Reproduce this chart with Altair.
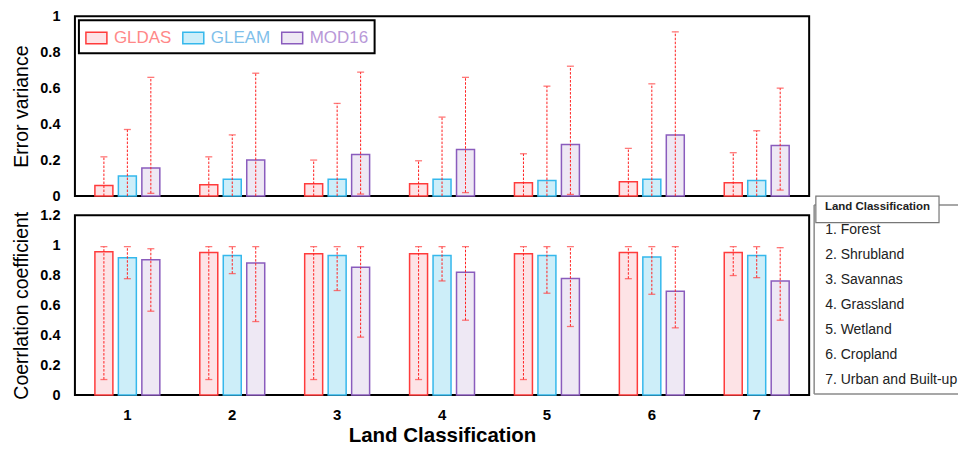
import altair as alt
import pandas as pd

FONT = "Liberation Sans"

classes = ["1", "2", "3", "4", "5", "6", "7"]
products = ["GLDAS", "GLEAM", "MOD16"]
items = ["1. Forest", "2. Shrubland", "3. Savannas", "4. Grassland",
         "5. Wetland", "6. Cropland", "7. Urban and Built-up"]

# Error variance (mean, upper, lower)
ev_gldas = [0.059, 0.063, 0.068, 0.068, 0.074, 0.080, 0.074]
ev_gldas_hi = [0.218, 0.218, 0.200, 0.196, 0.235, 0.265, 0.241]
ev_gldas_lo = [0, 0, 0, 0, 0, 0, 0]
ev_gleam = [0.111, 0.093, 0.093, 0.093, 0.087, 0.093, 0.087]
ev_gleam_hi = [0.370, 0.340, 0.515, 0.439, 0.611, 0.624, 0.363]
ev_gleam_lo = [0, 0, 0, 0, 0, 0, 0]
ev_mod16 = [0.156, 0.200, 0.231, 0.259, 0.287, 0.340, 0.281]
ev_mod16_hi = [0.660, 0.683, 0.689, 0.660, 0.722, 0.913, 0.600]
ev_mod16_lo = [0.015, 0, 0.011, 0.019, 0.009, 0, 0.033]

# Correlation coefficient (mean, upper, lower)
cc_gldas = [0.957, 0.951, 0.944, 0.944, 0.944, 0.951, 0.951]
cc_gldas_hi = [0.991, 0.991, 0.991, 0.991, 0.991, 0.991, 0.991]
cc_gldas_lo = [0.104, 0.104, 0.104, 0.104, 0.104, 0.777, 0.798]
cc_gleam = [0.917, 0.931, 0.931, 0.931, 0.931, 0.922, 0.931]
cc_gleam_hi = [0.991, 0.991, 0.991, 0.991, 0.991, 0.991, 0.991]
cc_gleam_lo = [0.777, 0.811, 0.698, 0.762, 0.680, 0.673, 0.784]
cc_mod16 = [0.904, 0.882, 0.853, 0.820, 0.778, 0.693, 0.762]
cc_mod16_hi = [0.977, 0.991, 0.991, 0.991, 0.991, 0.991, 0.984]
cc_mod16_lo = [0.560, 0.491, 0.387, 0.500, 0.458, 0.449, 0.500]

fills = ["#fde3e6", "#cdeef9", "#eee8f4"]
strokes = ["#ff3b3b", "#35b8ec", "#8a5cbd"]


def build(series):
    rows = []
    for prod, (m, hi, lo) in zip(products, series):
        for c, a, b, d in zip(classes, m, hi, lo):
            rows.append({"cls": c, "product": prod, "mean": a, "hi": b, "lo": d})
    return pd.DataFrame(rows)


ev_df = build([(ev_gldas, ev_gldas_hi, ev_gldas_lo),
               (ev_gleam, ev_gleam_hi, ev_gleam_lo),
               (ev_mod16, ev_mod16_hi, ev_mod16_lo)])
cc_df = build([(cc_gldas, cc_gldas_hi, cc_gldas_lo),
               (cc_gleam, cc_gleam_hi, cc_gleam_lo),
               (cc_mod16, cc_mod16_hi, cc_mod16_lo)])

W, H = 735, 180


def panel(df, ytitle, ydomain, yvals, show_x, show_legend):
    if show_x:
        x_axis = alt.Axis(title="Land Classification", labelAngle=0, labelFontSize=15,
                          labelFontWeight="bold", titleFontSize=20.5, titleFontWeight="bold",
                          labelPadding=12, titlePadding=3)
    else:
        x_axis = None
    x_enc = alt.X("cls:N", sort=classes, axis=x_axis,
                  scale=alt.Scale(paddingInner=0, paddingOuter=0))
    xo_enc = alt.XOffset("product:N", sort=products,
                         scale=alt.Scale(paddingInner=0.234, paddingOuter=0.851))
    y_axis = alt.Axis(title=ytitle, values=yvals, format="~g", labelFontSize=14.5,
                      labelFontWeight="bold", labelPadding=15, titleFontSize=19.5,
                      titleFontWeight="normal", titlePadding=8)
    y_scale = alt.Scale(domain=ydomain, nice=False)

    if show_legend:
        leg = alt.Legend(title=None, orient="top-left", direction="horizontal", offset=4,
                         padding=6, strokeColor="black",
                         symbolType="M-1,-0.55L1,-0.55L1,0.55L-1,0.55Z", symbolSize=441,
                         symbolStrokeWidth=1.5, labelFontSize=17, labelFont=FONT,
                         labelOffset=6, columnPadding=8,
                         labelColor={"expr": "datum.label == 'GLDAS' ? '#ff8888' : datum.label == 'GLEAM' ? '#7fc0ea' : '#b898d8'"})
    else:
        leg = None

    base = alt.Chart(df)
    bars = base.mark_bar(strokeWidth=1.5).encode(
        x=x_enc, xOffset=xo_enc,
        y=alt.Y("mean:Q", scale=y_scale, axis=y_axis),
        fill=alt.Fill("product:N", sort=products,
                      scale=alt.Scale(domain=products, range=fills), legend=leg),
        stroke=alt.Stroke("product:N", sort=products,
                          scale=alt.Scale(domain=products, range=strokes), legend=leg),
    )
    rules = base.mark_rule(color="#ff2020", strokeWidth=1, strokeDash=[2.5, 1.5]).encode(
        x=x_enc, xOffset=xo_enc,
        y=alt.Y("lo:Q", scale=y_scale, axis=y_axis), y2="hi:Q",
    )
    cap_hi = base.mark_tick(color="#ff4040", size=7, thickness=1.3).encode(
        x=x_enc, xOffset=xo_enc,
        y=alt.Y("hi:Q", scale=y_scale, axis=y_axis),
    )
    cap_lo = base.mark_tick(color="#ff4040", size=7, thickness=1.3).encode(
        x=x_enc, xOffset=xo_enc,
        y=alt.Y("lo:Q", scale=y_scale, axis=y_axis),
    ).transform_filter("datum.lo > 0.004")
    return alt.layer(bars, rules, cap_hi, cap_lo)


top = panel(ev_df, "Error variance", [0, 1], [0, 0.2, 0.4, 0.6, 0.8, 1], False, True).properties(
    width=W, height=H)

bottom_core = panel(cc_df, "Coerrlation coefficient", [0, 1.2],
                    [0, 0.2, 0.4, 0.6, 0.8, 1, 1.2], True, False)

one = pd.DataFrame({"k": [0]})
leg_df = pd.DataFrame({"item": items})

BOX = "#8a8a8a"
box_left = alt.Chart(one).mark_rule(color=BOX, strokeWidth=1.5).encode(
    x=alt.value(740), y=alt.value(-10.3), y2=alt.value(179))
box_top = alt.Chart(one).mark_rule(color=BOX, strokeWidth=1.5).encode(
    x=alt.value(740), x2=alt.value(884), y=alt.value(-10.3))
box_bottom = alt.Chart(one).mark_rule(color=BOX, strokeWidth=1.5).encode(
    x=alt.value(740), x2=alt.value(884), y=alt.value(179))
title_box = alt.Chart(one).mark_rect(fill="white", stroke="#777777", strokeWidth=1.2).encode(
    x=alt.value(741.7), x2=alt.value(865), y=alt.value(-19.3), y2=alt.value(7.4))
title_txt = alt.Chart(one).mark_text(text="Land Classification", font=FONT, fontSize=11.5,
                                     fontWeight="bold", color="#222222",
                                     baseline="middle").encode(
    x=alt.value(803.4), y=alt.value(-8.6))
item_txt = alt.Chart(leg_df).mark_text(align="left", baseline="middle", font=FONT,
                                       fontSize=14, color="#222222").encode(
    x=alt.value(751),
    y=alt.Y("item:N", sort=items, scale=alt.Scale(type="point", padding=0.6), axis=None),
    text="item:N",
)

bottom = alt.layer(bottom_core, box_left, box_top, box_bottom, title_box, title_txt,
                   item_txt).resolve_scale(y="independent").properties(width=W, height=H)

chart = alt.vconcat(top, bottom, spacing=19.3, bounds="flush").resolve_scale(
    fill="independent", stroke="independent", x="independent", y="independent"
).resolve_legend(fill="independent", stroke="independent").properties(
    padding={"left": 10, "top": 7, "right": 0, "bottom": 0},
    background="white",
).configure_view(stroke="black", strokeWidth=2).configure_axis(
    grid=False, domain=False, ticks=False, tickSize=0, labelFont=FONT, titleFont=FONT,
    labelColor="black", titleColor="black"
).configure_legend(strokeWidth=2)

chart.save("out.html", embed_options={"renderer": "svg", "actions": False})
